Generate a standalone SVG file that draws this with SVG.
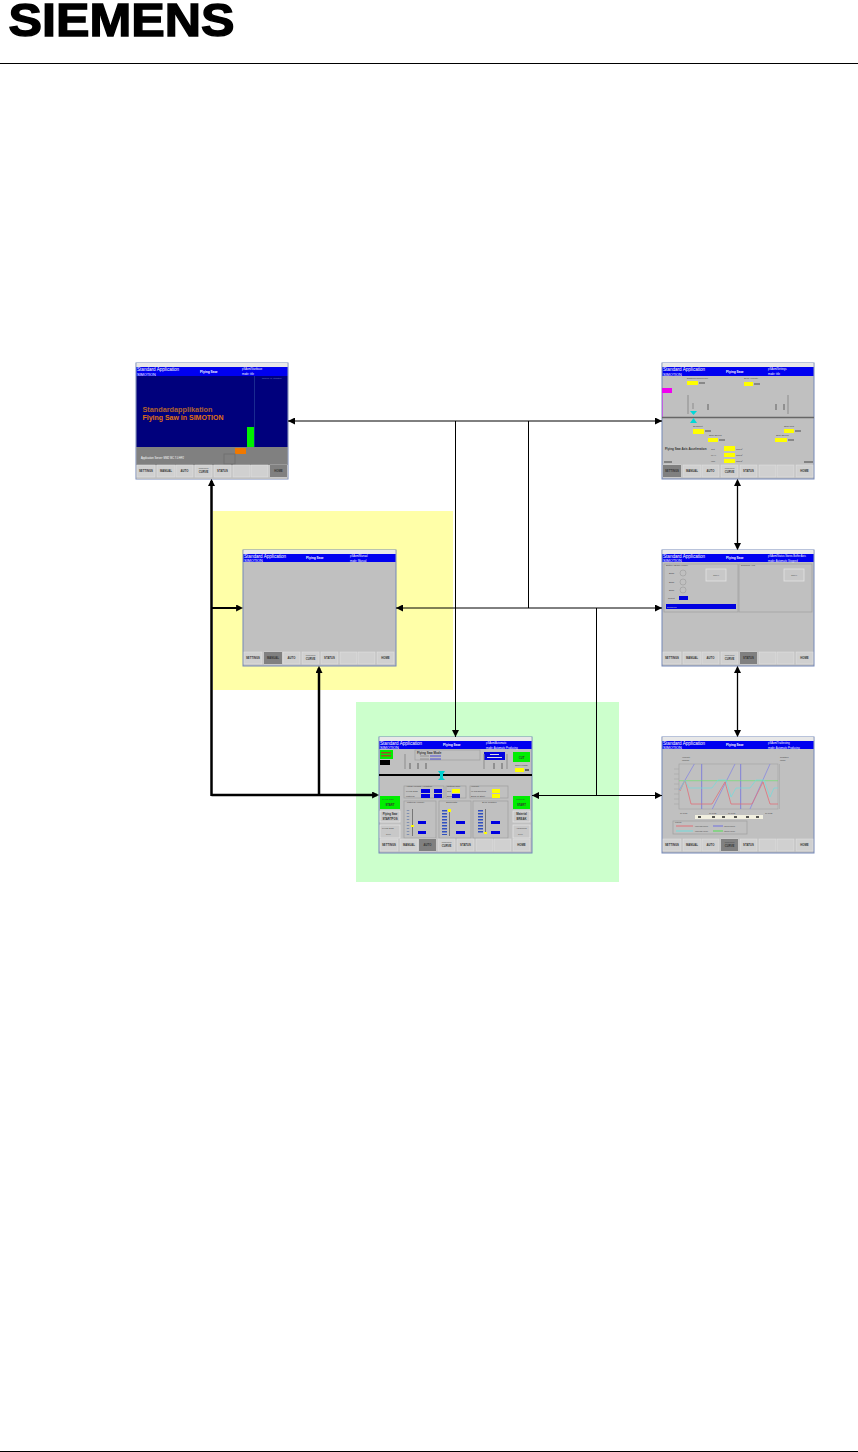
<svg xmlns="http://www.w3.org/2000/svg" width="858" height="1452" viewBox="0 0 858 1452">
<style>
text{font-family:"Liberation Sans",Arial,sans-serif}
.bar{fill:#0000f0}
.frame{fill:#c0c0c0;stroke:#7488b8;stroke-width:1}
.h1{font-size:4.600px;fill:#fff}
.h2{font-size:3.800px;fill:#fff}
.ht{font-size:3.300px;fill:#fff;font-weight:bold}
.hs{font-size:2.600px;fill:#fff}
.b{fill:#d0d0d0;stroke:#e4e4e4;stroke-width:.5}
.ba{fill:#808080}
.bt{font-size:2.800px;fill:#333;text-anchor:middle;font-weight:bold}
.bs{font-size:1.600px;fill:#444;text-anchor:middle}
.y{fill:#ffff00}
.bl{fill:#0000e0}
.g{fill:#00ee00}
.t{font-size:2.400px;fill:#444}
.t2{font-size:1.900px;fill:#444}
.tb{font-size:3px;fill:#333;font-weight:bold}
.gb{fill:none;stroke:#a2a2a2;stroke-width:.8}
.v{stroke:#8c8c8c;stroke-width:1;fill:none}
.vd{stroke:#606060;stroke-width:1;fill:none}
.cy{fill:#00d8d8}
.thin{fill:none;stroke:#000;stroke-width:1}
.med{fill:none;stroke:#000;stroke-width:1.300}
.thick{fill:none;stroke:#000;stroke-width:2.500}
.mid{fill:none;stroke:#000;stroke-width:2}
.rule{stroke:#000;stroke-width:1}
.btn{fill:#c8c8c8;stroke:#e4e4e4;stroke-width:.8}
</style>
<defs>
<marker id="a" viewBox="0 0 10 10" refX="10" refY="5" markerWidth="7" markerHeight="7" markerUnits="userSpaceOnUse" orient="auto-start-reverse"><path d="M0 0L10 5L0 10Z" fill="#000"/></marker>
<marker id="b" viewBox="0 0 10 10" refX="7" refY="5" markerWidth="7" markerHeight="7" markerUnits="userSpaceOnUse" orient="auto-start-reverse"><path d="M0 0L10 5L0 10Z" fill="#000"/></marker>
<g id="btns">
<rect class="b" x="1" y="102" width="18" height="12"/><rect class="b" x="21" y="102" width="18" height="12"/><rect class="b" x="40" y="102" width="17" height="12"/><rect class="b" x="59" y="102" width="17" height="12"/><rect class="b" x="78" y="102" width="17" height="12"/><rect class="b" x="97" y="102" width="17" height="12"/><rect class="b" x="115" y="102" width="17" height="12"/><rect class="b" x="134" y="102" width="17" height="12"/>
</g>
<g id="lbl">
<text class="bt" x="10" y="109">SETTINGS</text><text class="bt" x="30" y="109">MANUAL</text><text class="bt" x="48.500" y="109">AUTO</text><text class="bs" x="67.500" y="105.500">Measurement</text><text class="bt" x="67.500" y="110">CURVE</text><text class="bt" x="86.500" y="109">STATUS</text><text class="bt" x="142.500" y="109">HOME</text>
</g>
</defs>

<g id="page">
<text x="8.500" y="35.500" font-size="47" font-weight="bold" textLength="226" lengthAdjust="spacingAndGlyphs" fill="#000" stroke="#000" stroke-width="1.400">SIEMENS</text>
<line class="rule" x1="0" y1="63.500" x2="858" y2="63.500"/>
<line class="rule" x1="0" y1="1451.500" x2="858" y2="1451.500"/>
<rect x="213" y="511" width="240" height="179" fill="#ffffa8"/>
<rect x="356" y="702" width="263" height="180" fill="#ccffcc"/>
</g>

<g id="screen-start" transform="translate(136,363)">
<rect class="frame" x="0" y="0" width="152" height="116"/>
<rect x=".5" y="0" width="151" height="4" fill="#e8e8e8"/>
<rect class="bar" x=".5" y="4" width="151" height="9"/>
<rect x=".5" y="13" width="151" height="71" fill="#00007c"/>
<rect x=".5" y="84" width="151" height="18" fill="#808080"/>
<rect x=".5" y="102" width="151" height="14" fill="#c0c0c0"/>
<text class="h1" x="1" y="8">Standard Application</text><text class="h2" x="1" y="12.500">SIMOTION</text>
<text class="ht" x="64" y="9.500">Flying Saw</text><text class="hs" x="106" y="7">pSAxm/Startbase</text><text class="hs" x="106" y="12">mode: title</text>
<line x1="118.500" y1="13" x2="118.500" y2="84" stroke="#1a2a90" stroke-width="1"/>
<text x="126" y="16" font-size="1.800" fill="#7080c0">Siemens AG Automation</text>
<rect x="111" y="64" width="7" height="20" fill="#00f000"/>
<rect x="99" y="85" width="11" height="6" fill="#f07800"/>
<rect x="88" y="91" width="11" height="10" fill="none" stroke="#707070"/>
<text x="6.500" y="49" font-size="6.500" fill="#b06030" font-weight="bold" textLength="70" lengthAdjust="spacingAndGlyphs">Standardapplikation</text>
<text x="6.500" y="57" font-size="7" fill="#e07010" font-weight="bold" textLength="81" lengthAdjust="spacingAndGlyphs">Flying Saw in SIMOTION</text>
<text x="5" y="96" font-size="2.600" fill="#fff">Application Server: MM2 MC 7.0 HF2</text>
<use href="#btns"/><rect class="ba" x="134" y="102" width="17" height="12"/><use href="#lbl"/>
</g>

<g id="screen-settings" transform="translate(662,363)">
<rect class="frame" x="0" y="0" width="152" height="116"/>
<rect x=".5" y="0" width="151" height="4" fill="#e8e8e8"/>
<rect class="bar" x=".5" y="4" width="151" height="9"/>
<text class="h1" x="1" y="8">Standard Application</text><text class="h2" x="1" y="12.500">SIMOTION</text>
<text class="ht" x="64" y="9.500">Flying Saw</text><text class="hs" x="106" y="7">pSAxm/Settings</text><text class="hs" x="106" y="12">mode: title</text>
<rect x="0" y="25" width="10" height="5" fill="#f000f0"/><line x1=".5" y1="30" x2=".5" y2="54" stroke="#c060e0"/>
<line x1="0" y1="54.500" x2="152" y2="54.500" stroke="#666" stroke-width="1.500"/>
<path class="v" d="M26 32V51M126 32V51M31 40V46"/><path class="vd" d="M46 41V47M114 41V47M122 41V47"/>
<path class="cy" d="M28 48H35L31.500 52ZM31.500 55L35 60H28Z"/>
<text class="t" x="25" y="16">Distance/Reference</text><text class="t" x="82" y="16">Sync Velocity</text>
<rect class="y" x="25" y="18" width="11" height="4"/><rect class="y" x="82" y="19" width="9" height="4"/>
<rect x="37" y="19" width="6" height="2" fill="#888"/><rect x="92" y="20" width="6" height="2" fill="#888"/>
<rect class="y" x="31" y="66" width="11" height="5"/><rect class="y" x="122" y="66" width="10" height="4"/><rect class="y" x="46" y="75" width="10" height="4"/><rect class="y" x="113" y="75" width="12" height="4"/>
<text class="t" x="31" y="64">Segment</text><text class="t" x="122" y="64">Start Pos</text><text class="t" x="47" y="73">Start Speed</text><text class="t" x="114" y="73">Start Speed</text>
<rect x="43" y="67" width="6" height="2" fill="#888"/><rect x="133" y="67" width="6" height="2" fill="#888"/><rect x="57" y="76" width="6" height="2" fill="#888"/><rect x="126" y="76" width="6" height="2" fill="#888"/>
<text class="tb" x="3" y="87">Flying Saw Axis Acceleration</text>
<text class="t" x="49" y="87">Cut</text><text class="t" x="49" y="93">MAX</text><text class="t" x="49" y="99">Imp</text>
<rect class="y" x="62" y="83" width="11" height="5"/><rect class="y" x="62" y="90" width="11" height="4"/><rect class="y" x="62" y="96" width="11" height="4"/>
<text class="t" x="74" y="87">mm/s²</text><text class="t" x="74" y="93">mm/s²</text><text class="t" x="74" y="99">mm/s²</text>
<line x1="2" y1="99" x2="10" y2="99" stroke="#444"/><line x1="142" y1="99" x2="151" y2="99" stroke="#444"/>
<use href="#btns"/><rect class="ba" x="1" y="102" width="18" height="12"/><use href="#lbl"/>
</g>

<g id="screen-manual" transform="translate(243,550)">
<rect class="frame" x="0" y="0" width="153" height="116"/>
<rect x=".5" y="0" width="152" height="4" fill="#e8e8e8"/>
<rect class="bar" x=".5" y="4" width="152" height="8"/>
<text class="h1" x="1" y="7.500">Standard Application</text><text class="h2" x="1" y="11.800">SIMOTION</text>
<text class="ht" x="63" y="8.500">Flying Saw</text><text class="hs" x="107" y="7">pSAxm/Manual</text><text class="hs" x="107" y="11.500">mode: Manual</text>
<use href="#btns"/><rect class="ba" x="21" y="102" width="18" height="12"/><use href="#lbl"/>
</g>

<g id="screen-status" transform="translate(662,550)">
<rect class="frame" x="0" y="0" width="152" height="116"/>
<rect x=".5" y="0" width="151" height="4" fill="#e8e8e8"/>
<rect class="bar" x=".5" y="4" width="151" height="8"/>
<text class="h1" x="1" y="7.500">Standard Application</text><text class="h2" x="1" y="11.800">SIMOTION</text>
<text class="ht" x="64" y="8.500">Flying Saw</text><text class="hs" x="106" y="7" font-size="2.200">pSAxm/Status Stores Buffer Axis</text><text class="hs" x="106" y="11.500">mode: Automatic Stopped</text>
<rect class="gb" x="2" y="14" width="74" height="48"/><rect class="gb" x="77" y="14" width="73" height="48"/>
<text class="t" x="4" y="16">Battery Buffer Model</text><text class="t" x="79" y="16">Dimmed Axis</text>
<circle cx="21" cy="23" r="3" fill="none" stroke="#999" stroke-width=".6"/><circle cx="21" cy="32" r="3" fill="none" stroke="#999" stroke-width=".6"/><circle cx="21" cy="40" r="3" fill="none" stroke="#999" stroke-width=".6"/>
<text class="t" x="7" y="24">Base</text><text class="t" x="7" y="33">Base</text><text class="t" x="7" y="41">Base</text><text class="t" x="6" y="49">Result</text>
<rect class="btn" x="44" y="19" width="20" height="12"/><rect class="btn" x="122" y="19" width="20" height="12"/>
<text class="bs" x="54" y="26">ignore it</text><text class="bs" x="132" y="26">ignore it</text>
<rect class="bl" x="17" y="46" width="9" height="4"/>
<rect class="bl" x="4" y="54" width="70" height="5"/><text x="5" y="57.500" font-size="2.500" fill="#ccc">Disables</text>
<use href="#btns"/><rect class="ba" x="78" y="102" width="17" height="12"/><use href="#lbl"/>
</g>

<g id="screen-auto" transform="translate(379,737)">
<rect class="frame" x="0" y="0" width="153" height="116"/>
<rect x=".5" y="0" width="152" height="4" fill="#e8e8e8"/>
<rect class="bar" x=".5" y="4" width="152" height="8"/>
<text class="h1" x="1" y="7.500">Standard Application</text><text class="h2" x="1" y="11.800">SIMOTION</text>
<text class="ht" x="64" y="8.500">Flying Saw</text><text class="hs" x="107" y="7">pSAxm/Automatic</text><text class="hs" x="107" y="11.500">mode: Automatic Producing</text>
<rect class="g" x="1" y="13" width="13" height="9"/><rect x="1" y="23" width="10" height="5" fill="#000"/>
<rect x="2" y="15" width="10" height="1.500" fill="#a05020"/><rect x="2" y="18" width="10" height="1.500" fill="#a05020"/>
<rect class="gb" x="36" y="13" width="65" height="10"/><text class="tb" x="38" y="16.500">Flying Saw Mode</text>
<path d="M41 19H50M41 22H50" stroke="#777" stroke-width=".6"/><path d="M51 19H62M51 22H62" stroke="#0000e0" stroke-width=".6"/>
<rect class="bl" x="105" y="15" width="21" height="8"/><rect x="111" y="17" width="9" height="1" fill="#ddd"/><rect x="108" y="20" width="15" height="1" fill="#ddd"/>
<rect class="g" x="134" y="15" width="17" height="10"/><text class="bt" x="142.500" y="22">CUT</text>
<text class="t" x="136" y="29">Saw Length</text><rect class="y" x="136" y="31" width="9" height="4"/><rect x="146" y="32" width="4" height="2" fill="#666"/>
<path class="v" d="M26 17V32M105 17V32M128 17V32"/><path class="vd" d="M31 26V32M39 26V32M47 26V32M115 26V32M123 26V32"/>
<line x1="0" y1="38" x2="153" y2="38" stroke="#000" stroke-width="2"/>
<path d="M59 34H66L64 37V41L66 43H59L61 41V37Z" fill="#00d0d0"/>
<rect class="gb" x="25" y="49" width="40" height="12"/><rect class="gb" x="67" y="49" width="20" height="12"/><rect class="gb" x="91" y="49" width="38" height="12"/>
<text class="t" x="27" y="49.500" font-size="2">Actual Velocity / Position</text><text class="t" x="68" y="49.500">Cutting Time</text><text class="t" x="92" y="49.500">Velocity</text>
<text class="t" x="27" y="55">Flying Saw</text><text class="t" x="27" y="60">Material</text>
<rect class="bl" x="42" y="52" width="9" height="4"/><rect class="bl" x="42" y="57" width="9" height="4"/><rect class="bl" x="55" y="52" width="8" height="4"/><rect class="bl" x="55" y="57" width="8" height="4"/>
<text class="t" x="68" y="55">Cut</text><text class="t" x="68" y="60">Back</text><rect class="y" x="73" y="52" width="8" height="4"/><rect class="bl" x="73" y="57" width="8" height="4"/>
<text class="t" x="92" y="55">In Parameters</text><text class="t" x="92" y="60">Each at Start</text><rect class="y" x="113" y="52" width="8" height="4"/><rect class="y" x="113" y="57" width="8" height="4"/>
<rect class="gb" x="25" y="64" width="32" height="37"/><rect class="gb" x="60" y="64" width="32" height="37"/><rect class="gb" x="94" y="64" width="35" height="37"/>
<text class="t" x="28" y="66">Material Velocity</text><text class="t" x="67" y="66">Sawlength</text><text class="t" x="103" y="66">Sync Position</text>
<path d="M33.500 72V99" stroke="#777" stroke-width="1"/><path d="M29 73V98" stroke="#8090b0" stroke-width="2.500" stroke-dasharray="1 2"/><rect class="y" x="32" y="88" width="3" height="2"/>
<path d="M70.500 72V99" stroke="#777" stroke-width="1"/><path d="M65.500 73V98" stroke="#3050c0" stroke-width="5" stroke-dasharray="1.500 1.500"/><rect class="y" x="69" y="72" width="3" height="3"/>
<path d="M106.500 72V97" stroke="#777" stroke-width="1"/><path d="M101.500 73V96" stroke="#3050c0" stroke-width="5" stroke-dasharray="1.500 1.500"/><rect class="y" x="105" y="95" width="3" height="2"/>
<rect class="bl" x="39" y="84" width="8" height="3"/><rect class="bl" x="39" y="94" width="8" height="3"/><rect class="bl" x="77" y="84" width="9" height="3"/><rect class="bl" x="77" y="94" width="9" height="3"/><rect class="bl" x="112" y="84" width="9" height="3"/><rect class="bl" x="112" y="94" width="9" height="3"/>
<rect class="g" x="1" y="59" width="20" height="13"/><rect class="g" x="134" y="59" width="17" height="13"/>
<text class="t" x="3" y="63">Flying Saw</text><text class="bt" x="11" y="69">START</text><text class="t" x="137" y="63">Material</text><text class="bt" x="142.500" y="69">START</text>
<rect class="btn" x="1" y="74" width="20" height="11"/><rect class="btn" x="134" y="74" width="17" height="11"/>
<text class="bt" x="11" y="78">Flying Saw</text><text class="bt" x="11" y="83">STARTPOS</text><text class="bt" x="142.500" y="78">Material</text><text class="bt" x="142.500" y="83">BREAK</text>
<rect class="btn" x="1" y="88" width="20" height="13"/><rect class="btn" x="134" y="88" width="17" height="13"/>
<text class="t" x="3" y="92">Flying Saw</text><text class="t2" x="7" y="98">Cycle</text><text class="t" x="137" y="92">Advanced</text><text class="t2" x="139" y="98">Cycle</text>
<use href="#btns"/><rect class="ba" x="40" y="102" width="17" height="12"/><use href="#lbl"/>
</g>

<g id="screen-curve" transform="translate(662,737)">
<rect class="frame" x="0" y="0" width="152" height="116"/>
<rect x=".5" y="0" width="151" height="4" fill="#e8e8e8"/>
<rect class="bar" x=".5" y="4" width="151" height="8"/>
<text class="h1" x="1" y="7.500">Standard Application</text><text class="h2" x="1" y="11.800">SIMOTION</text>
<text class="ht" x="64" y="8.500">Flying Saw</text><text class="hs" x="106" y="7">pSAxm/Trailtesting</text><text class="hs" x="106" y="11.500">mode: Automatic Producing</text>
<text class="t" x="20" y="21">Velocity</text><text class="t" x="20" y="24">[mm/s]</text><text class="t" x="118" y="21">Position</text><text class="t" x="118" y="24">[mm]</text>
<rect x="17" y="27" width="99" height="45" fill="none" stroke="#a0a0a0" stroke-width=".6"/>
<path d="M12 32H17M12 37H17M12 42H17M12 47H17M12 52H17M12 57H17M12 62H17M12 67H17M117.500 27V72" stroke="#a0a0a0" stroke-width=".5" fill="none"/>
<path d="M39.700 27V72M78.700 27V72" stroke="#8080d8" stroke-width="1"/>
<path d="M17.300 53L32.300 27M50.300 72L73 27M88 72L108 27" fill="none" stroke="#8888e0" stroke-width=".8"/>
<path d="M17 43.700H116" fill="none" stroke="#70e070" stroke-width=".7"/>
<path d="M18 54L23 43L29 67H50L63 45L69 67H90L101 45L108 67H116" fill="none" stroke="#e07078" stroke-width=".8"/>
<path d="M18 53L23 43L27 51H50L56 43H64L69 60L74 51H88L94 43H102L108 60L112 51H116" fill="none" stroke="#70dcdc" stroke-width=".7"/>
<text class="t2" x="18" y="77">10:10:20</text><text class="t2" x="47" y="77">10:10:25</text><text class="t2" x="66" y="77">10:10:30</text><text class="t2" x="103" y="77">10:10:35</text>
<rect x="33" y="78" width="68" height="4" fill="#f2f0e0"/><path d="M36 80h3M50 80h3M60 80h3M72 80h3M84 80h3M94 80h3" stroke="#222" stroke-width="1.500"/>
<rect class="gb" x="11" y="84" width="74" height="13"/><text class="t2" x="13" y="85.500">Legend</text>
<path d="M14 89H31" stroke="#e07078"/><path d="M14 94H31" stroke="#70dcdc"/><path d="M51 89H61" stroke="#7070e0"/><path d="M51 94H61" stroke="#50e050"/>
<text class="t2" x="33" y="90" font-size="1.500" style="font-size:1.500px">Flying Saw Position</text><text class="t2" x="33" y="95" style="font-size:1.500px">Flying Saw Velocity</text><text class="t2" x="62" y="90" style="font-size:1.500px">Material Position</text><text class="t2" x="62" y="95" style="font-size:1.500px">Material Velocity</text>
<use href="#btns"/><rect class="ba" x="59" y="102" width="17" height="12"/><use href="#lbl"/>
</g>

<g id="connectors">
<path class="thin" d="M288 421H662" marker-start="url(#a)" marker-end="url(#a)"/>
<path class="thin" d="M455.500 421V737" marker-end="url(#a)"/>
<path class="thin" d="M528.500 421V608"/>
<path class="thin" d="M396 608H662" marker-start="url(#a)" marker-end="url(#a)"/>
<path class="thin" d="M596.500 608V795"/>
<path class="thin" d="M532 795.500H662" marker-start="url(#a)" marker-end="url(#a)"/>
<path class="med" d="M737.500 481V548" marker-start="url(#b)" marker-end="url(#b)"/>
<path class="med" d="M737.500 668V735" marker-start="url(#b)" marker-end="url(#b)"/>
<path class="thick" d="M211.500 481V796" marker-start="url(#b)"/>
<path class="mid" d="M211.500 608H241" marker-end="url(#b)"/>
<path class="thick" d="M319 668V795" marker-start="url(#b)"/>
<path class="thick" d="M211.500 795H377" marker-end="url(#b)"/>
</g>
</svg>
